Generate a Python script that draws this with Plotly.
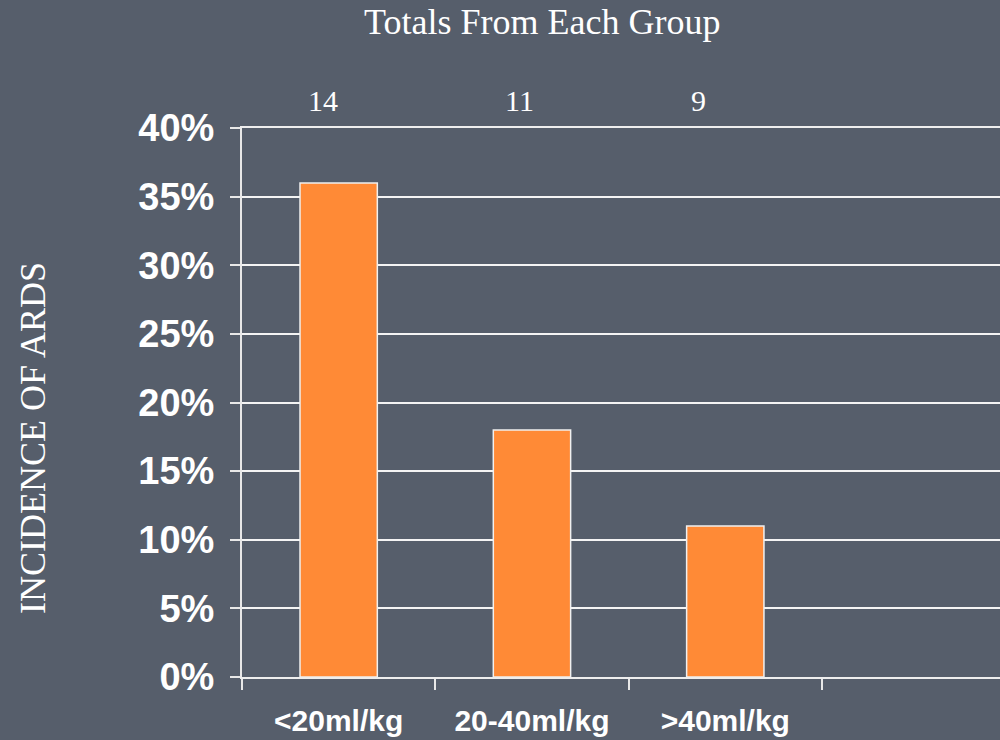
import plotly.graph_objects as go

categories = ["<20ml/kg", "20-40ml/kg", ">40ml/kg", " "]
incidence = [0.36, 0.18, 0.11, None]
group_totals = [14, 11, 9]
y_ticks = [0, 0.05, 0.10, 0.15, 0.20, 0.25, 0.30, 0.35, 0.40]
y_tick_labels = ["0%", "5%", "10%", "15%", "20%", "25%", "30%", "35%", "40%"]

BG = "#565e6b"
ORANGE = "#ff8a36"
SERIF = "Liberation Serif, DejaVu Serif, serif"
SANS = "Liberation Sans Narrow, Liberation Sans, Arial, sans-serif"

plot_l, plot_r, plot_t, plot_b = 242, 1000, 128, 677
W, H = 1000, 740


def px_x(x):
    return (x - plot_l) / (plot_r - plot_l)


def px_y(y):
    return (plot_b - y) / (plot_b - plot_t)


fig = go.Figure()
fig.add_trace(go.Bar(
    x=categories, y=incidence, width=0.4,
    marker=dict(color=ORANGE, line=dict(color="#f0f0f0", width=1.5)),
    hoverinfo="skip",
))

annotations = [
    dict(text="Totals From Each Group", x=px_x(542), y=px_y(22), xref="paper", yref="paper",
         xanchor="center", yanchor="middle", showarrow=False,
         font=dict(family=SERIF, size=36, color="white")),
    dict(text="INCIDENCE OF ARDS", textangle=-90, x=px_x(33), y=px_y(438),
         xref="paper", yref="paper", xanchor="center", yanchor="middle",
         showarrow=False, font=dict(family=SERIF, size=36, color="white")),
]
shifts = [-16, -12, -27]
for cat, tot, sh in zip(categories, group_totals, shifts):
    annotations.append(dict(text=str(tot), x=cat, y=1, xref="x", yref="paper",
                            yanchor="bottom", yshift=9, xshift=sh, showarrow=False,
                            font=dict(family=SERIF, size=30, color="white")))

fig.update_layout(
    width=W, height=H,
    margin=dict(l=plot_l, r=W - plot_r, t=plot_t, b=H - plot_b, pad=0),
    paper_bgcolor=BG, plot_bgcolor=BG,
    showlegend=False,
    annotations=annotations,
    xaxis=dict(
        type="category", categoryorder="array", categoryarray=categories,
        range=[-0.5, 3.421], tickson="boundaries", ticks="outside", ticklen=11,
        tickcolor="#e8e8e8", tickwidth=1.5,
        showline=True, linecolor="#eeeeee", linewidth=2, mirror=True,
        showgrid=False, zeroline=False, ticklabelstandoff=16,
        tickfont=dict(family=SANS, size=30, color="white", weight="bold"),
    ),
    yaxis=dict(
        range=[0, 0.40], tickvals=y_ticks, ticktext=y_tick_labels,
        ticks="outside", ticklen=10, tickcolor="#e8e8e8", tickwidth=1.5,
        showline=True, linecolor="#e8e8e8", linewidth=2,
        showgrid=True, gridcolor="#f4f4f4", gridwidth=1.5, zeroline=False,
        ticklabelstandoff=8,
        tickfont=dict(family=SANS, size=38, color="white", weight="bold"),
    ),
)

fig.write_html("out.html")
